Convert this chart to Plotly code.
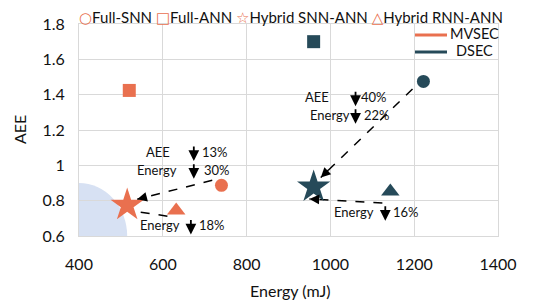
import plotly.graph_objects as go

# ---------------- data ----------------
architectures = ["Full-SNN", "Full-ANN", "Hybrid SNN-ANN", "Hybrid RNN-ANN"]
mvsec_energy = [740, 520, 515, 632]
mvsec_aee = [0.887, 1.424, 0.775, 0.745]
dsec_energy = [1222, 960, 960, 1143]
dsec_aee = [1.475, 1.70, 0.878, 0.852]

datasets = ["MVSEC", "DSEC"]

x_ticks = [400, 600, 800, 1000, 1200, 1400]
y_ticks = [0.6, 0.8, 1.0, 1.2, 1.4, 1.6, 1.8]
y_ticklabels = ["0.6", "0.8", "1", "1.2", "1.4", "1.6", "1.8"]

x_title = "Energy (mJ)"
y_title = "AEE"

# reduction annotations: (label, percent)
mvsec_notes = [("AEE", "13%"), ("Energy", "30%"), ("Energy", "18%")]
dsec_notes = [("AEE", "40%"), ("Energy", "22%"), ("Energy", "16%")]

ORANGE = "#E9704F"
DARK = "#264A59"
FONT = "Lato"
colors = [ORANGE, DARK]

symbols = ["circle", "square", "star", "triangle-up"]
sizes = [13, 13, 25, 16]

# page has an 8px body margin; figure sized to fit the 543x305 window
OFF = 8
W, H = 543 - OFF, 305 - OFF
L, R, T, B = 79 - OFF, 45, 24 - OFF, 69
PW, PH = W - L - R, H - T - B


def px(xw):
    """window x pixel -> paper x"""
    return (xw - OFF - L) / PW


def py(yw):
    """window y pixel -> paper y"""
    return (H - B - (yw - OFF)) / PH


fig = go.Figure()

# light blue quarter circle (low energy / low error region)
fig.add_shape(type="circle", xref="x", yref="y", x0=285, x1=515, y0=0.30, y1=0.90,
              fillcolor="#D7E1F3", line_width=0, layer="below")

# dashed arrows (lines)
arrows = [
    ((718, 0.915), (539, 0.808)),
    ((611, 0.712), (533, 0.740)),
    ((1196, 1.432), (977, 0.931)),
    ((1124, 0.787), (950, 0.810)),
]
for (x0, y0), (x1, y1) in arrows:
    fig.add_trace(go.Scatter(x=[x0, x1], y=[y0, y1], mode="lines",
                             line=dict(color="black", width=1.5, dash="dash"),
                             showlegend=False, hoverinfo="skip"))
    fx = x0 + (x1 - x0) * 0.9
    fy = y0 + (y1 - y0) * 0.9
    fig.add_annotation(x=x1, y=y1, ax=fx, ay=fy, axref="x", ayref="y", xref="x", yref="y",
                       text="", showarrow=True, arrowhead=2, arrowsize=1.3,
                       arrowwidth=1.5, arrowcolor="black", standoff=0, startstandoff=0)

# data markers
fig.add_trace(go.Scatter(x=mvsec_energy, y=mvsec_aee, mode="markers",
                         marker=dict(symbol=symbols, size=sizes, color=ORANGE, opacity=1,
                                     line=dict(width=0)),
                         text=architectures, showlegend=False))
fig.add_trace(go.Scatter(x=dsec_energy, y=dsec_aee, mode="markers",
                         marker=dict(symbol=symbols, size=sizes, color=DARK, opacity=1,
                                     line=dict(width=0)),
                         text=architectures, showlegend=False))


# reduction text annotations
def note(xl, xa, xp, y, label, pct):
    fig.add_annotation(x=xl, y=y, text=label, showarrow=False, xanchor="center",
                       yanchor="middle", font=dict(size=13, color="#111", family=FONT))
    fig.add_annotation(x=xp, y=y, text=pct, showarrow=False, xanchor="center",
                       yanchor="middle", font=dict(size=13, color="#111", family=FONT))
    fig.add_annotation(x=xa, y=y - 0.052, ax=0, ay=-16, text="", showarrow=True,
                       arrowhead=2, arrowsize=1.2, arrowwidth=1.8, arrowcolor="black",
                       standoff=0, startstandoff=0)


note(588, 674, 724, 1.076, *mvsec_notes[0])
note(586, 674, 729, 0.976, *mvsec_notes[1])
note(593, 667, 717, 0.660, *mvsec_notes[2])
note(969, 1060, 1105, 1.387, *dsec_notes[0])
note(998, 1060, 1112, 1.287, *dsec_notes[1])
note(1057, 1131, 1181, 0.738, *dsec_notes[2])

# top "marker legend"
glyphs = ["○", "□", "☆", "△"]
parts = [f"<span style='color:{ORANGE};font-family:DejaVu Sans;font-size:15px'>{g}</span>{a}"
         for g, a in zip(glyphs, architectures)]
fig.add_annotation(xref="paper", yref="paper", x=px(77), y=py(17), xanchor="left",
                   yanchor="middle", text=" ".join(parts),
                   showarrow=False, font=dict(size=15, color="#111", family=FONT))

# dataset legend (top-right, white box)
fig.add_shape(type="rect", xref="paper", yref="paper", x0=px(416), x1=px(497.5),
              y0=py(57), y1=py(25), fillcolor="white", line_width=0, layer="above")
leg_y = [35, 52]
leg_tx = [448, 454]
for name, col, ly, tx in zip(datasets, colors, leg_y, leg_tx):
    fig.add_shape(type="line", xref="paper", yref="paper", x0=px(415), x1=px(447),
                  y0=py(ly), y1=py(ly), line=dict(color=col, width=3), layer="above")
    fig.add_annotation(xref="paper", yref="paper", x=px(tx), y=py(ly - 1.5), xanchor="left",
                       yanchor="middle", text=name, showarrow=False,
                       font=dict(size=14.5, color="#111", family=FONT))

# axis titles
fig.add_annotation(xref="paper", yref="paper", x=px(290), y=py(290), text=x_title,
                   xanchor="center", yanchor="middle",
                   showarrow=False, font=dict(size=16, color="#111", family=FONT))
fig.add_annotation(xref="paper", yref="paper", x=px(19), y=py(130), text=y_title,
                   xanchor="center", yanchor="middle",
                   textangle=-90, showarrow=False, font=dict(size=16, color="#111", family=FONT))

fig.update_layout(
    width=W, height=H,
    margin=dict(l=L, r=R, t=T, b=B),
    paper_bgcolor="white", plot_bgcolor="white",
    font=dict(family=FONT, color="#222"),
    showlegend=False,
    xaxis=dict(range=[400, 1400], tickvals=x_ticks, showgrid=True, gridcolor="#D9D9D9",
               gridwidth=1, zeroline=False, showline=True, linecolor="#D9D9D9", mirror=True,
               ticks="", tickfont=dict(size=16, color="#111"), automargin=False,
               ticklabelstandoff=14),
    yaxis=dict(range=[0.6, 1.8], tickvals=y_ticks, ticktext=y_ticklabels, showgrid=True,
               gridcolor="#D9D9D9", gridwidth=1, zeroline=False, showline=True,
               linecolor="#D9D9D9", mirror=True, ticks="", automargin=False,
               tickfont=dict(size=16, color="#111"), ticklabelstandoff=10),
)

fig.write_html("out.html")
